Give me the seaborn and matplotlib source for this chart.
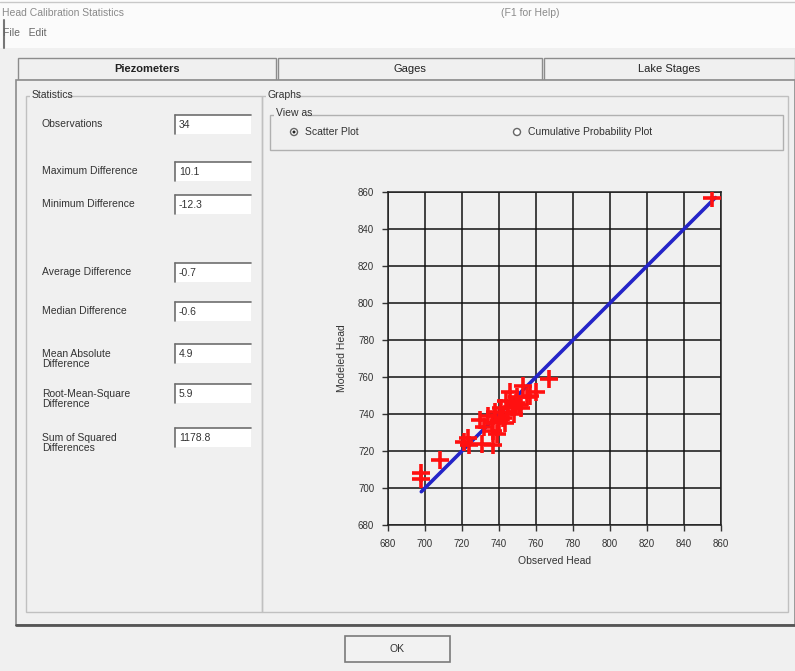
import matplotlib
matplotlib.use("Agg")
import matplotlib.pyplot as plt
import seaborn as sns
import pandas as pd
from matplotlib.patches import Rectangle, Circle

# ---------------- data ----------------
observed = [855, 698, 698, 708, 721, 724, 723, 731, 737, 730, 732, 734, 736, 737,
            738, 739, 740, 741, 742, 743, 744, 745, 746, 747, 748, 749, 750, 751,
            752, 753, 755, 757, 760, 767]
modeled = [857, 708, 705, 715, 725, 723, 727, 724, 723, 737, 733, 739, 735, 731,
           741, 729, 736, 743, 738, 735, 747, 741, 752, 744, 740, 746, 749, 745,
           743, 755, 749, 750, 752, 759]
line_vals = [698, 857]
ticks = [680, 700, 720, 740, 760, 780, 800, 820, 840, 860]

stat_labels = ["Observations", "Maximum Difference", "Minimum Difference",
               "Average Difference", "Median Difference",
               "Mean Absolute\nDifference", "Root-Mean-Square\nDifference",
               "Sum of Squared\nDifferences"]
stat_values = ["34", "10.1", "-12.3", "-0.7", "-0.6", "4.9", "5.9", "1178.8"]
stat_rows_y = [124, 171, 204, 272, 311, 353, 393, 437]

tabs = ["Piezometers", "Gages", "Lake Stages"]

df = pd.DataFrame({"Observed Head": observed, "Modeled Head": modeled})
line_df = pd.DataFrame({"x": line_vals, "y": line_vals})

# ---------------- figure ----------------
W, H = 795, 671
sns.set_style("white")
plt.rcParams["font.family"] = ["Liberation Sans", "DejaVu Sans"]
fig = plt.figure(figsize=(W / 100, H / 100), dpi=100)
fig.patch.set_facecolor("#f0f0f0")

bg = fig.add_axes([0, 0, 1, 1], zorder=0)
bg.set_xlim(0, W)
bg.set_ylim(H, 0)
bg.axis("off")

TXT = "#333333"

# title bar
bg.add_patch(Rectangle((0, 0), W, 48, facecolor="#fbfbfb", edgecolor="none"))
bg.plot([0, W], [2, 2], color="#c8c8c8", lw=1)
bg.text(2, 13, "Head Calibration Statistics", fontsize=7.5, color="#8a8a8a", va="center")
bg.text(530, 13, "(F1 for Help)", fontsize=7.5, color="#8a8a8a", va="center", ha="center")
bg.text(3, 33, "File   Edit", fontsize=7.5, color="#666666", va="center")
bg.plot([4, 4], [20, 48], color="#777777", lw=1.5)

# tabs
tab_x = [(18, 276), (278, 542), (544, 795)]
for (x0, x1), name in zip(tab_x, tabs):
    sel = name == "Piezometers"
    bg.add_patch(Rectangle((x0, 58), x1 - x0, 22, facecolor="#f0f0f0",
                           edgecolor="#8c8c8c", lw=1))
    bg.text((x0 + x1) / 2, 69, name, fontsize=8, color="#222222", ha="center",
            va="center", fontweight="bold" if sel else "normal")

# main panel
bg.add_patch(Rectangle((16, 80), W - 16, 545, facecolor="#f0f0f0",
                       edgecolor="#8c8c8c", lw=1.2))
bg.plot([16, W], [625, 625], color="#555555", lw=2)

# statistics group
bg.add_patch(Rectangle((26, 96), 236, 516, facecolor="none", edgecolor="#c0c0c0", lw=1))
bg.add_patch(Rectangle((30, 89), 36, 12, facecolor="#f0f0f0", edgecolor="none"))
bg.text(32, 95, "Statistics", fontsize=7.5, color=TXT, va="center")

for lab, val, yy in zip(stat_labels, stat_values, stat_rows_y):
    n = lab.count("\n")
    bg.text(42, yy + (6 if n else 0), lab, fontsize=7.5, color=TXT, va="center",
            linespacing=1.0)
    bg.add_patch(Rectangle((175, yy - 9), 76, 19, facecolor="white",
                           edgecolor="none"))
    bg.plot([175, 251], [yy - 9, yy - 9], color="#6e6e6e", lw=1.2)
    bg.plot([175, 175], [yy - 9, yy + 10], color="#6e6e6e", lw=1.2)
    bg.text(179, yy + 1, val, fontsize=7.5, color=TXT, va="center")

# graphs group
bg.add_patch(Rectangle((262, 96), 526, 516, facecolor="none", edgecolor="#c0c0c0", lw=1))
bg.add_patch(Rectangle((266, 89), 30, 12, facecolor="#f0f0f0", edgecolor="none"))
bg.text(267, 95, "Graphs", fontsize=7.5, color=TXT, va="center")
bg.add_patch(Rectangle((270, 115), 513, 35, facecolor="none", edgecolor="#b0b0b0", lw=1))
bg.add_patch(Rectangle((274, 108), 32, 12, facecolor="#f0f0f0", edgecolor="none"))
bg.text(276, 113, "View as", fontsize=7.5, color=TXT, va="center")
bg.add_patch(Circle((294, 132), 3.5, facecolor="white", edgecolor="#666666", lw=1))
bg.add_patch(Circle((294, 132), 1.5, facecolor="#222222", edgecolor="none"))
bg.text(305, 132, "Scatter Plot", fontsize=7.5, color=TXT, va="center")
bg.add_patch(Circle((517, 132), 3.5, facecolor="white", edgecolor="#666666", lw=1))
bg.text(528, 132, "Cumulative Probability Plot", fontsize=7.5, color=TXT, va="center")

# OK button
bg.add_patch(Rectangle((345, 636), 105, 26, facecolor="#f2f2f2", edgecolor="#7a7a7a", lw=1.2))
bg.text(397, 649, "OK", fontsize=7.5, color=TXT, ha="center", va="center")

# ---------------- scatter plot ----------------
ax = fig.add_axes([388 / W, 1 - 525 / H, 333 / W, 333 / H], zorder=2)
ax.set_facecolor("#f0f0f0")
sns.lineplot(data=line_df, x="x", y="y", color="#2424c8", lw=2.6, ax=ax, zorder=3)
sns.scatterplot(data=df, x="Observed Head", y="Modeled Head", marker="+",
                s=170, color="#ff1010", linewidth=2.6, ax=ax, zorder=4)
ax.set_xlim(680, 860)
ax.set_ylim(680, 860)
ax.set_xticks(ticks)
ax.set_yticks(ticks)
ax.grid(True, color="#111111", lw=1.1)
ax.set_axisbelow(True)
for s in ax.spines.values():
    s.set_color("#222222")
    s.set_linewidth(1.1)
ax.tick_params(axis="both", which="major", labelsize=7, colors="#333333",
               length=4, width=1, direction="out", bottom=True, left=True, pad=6)
ax.set_xlabel("Observed Head", fontsize=7.5, color=TXT, labelpad=5)
ax.set_ylabel("Modeled Head", fontsize=7.5, color=TXT, labelpad=8)

fig.savefig("out.png", dpi=100, facecolor=fig.get_facecolor())
